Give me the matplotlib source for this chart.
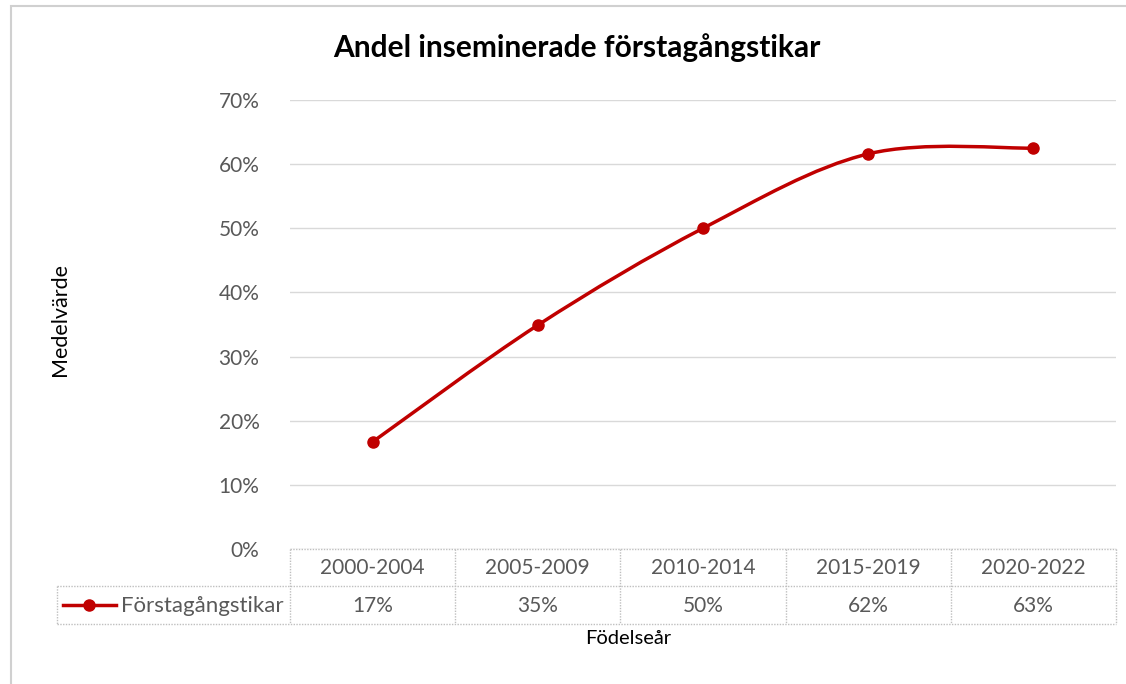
import numpy as np
import matplotlib
matplotlib.use("Agg")
import matplotlib.pyplot as plt
from matplotlib.path import Path
from matplotlib.patches import PathPatch, Rectangle
from matplotlib.lines import Line2D

plt.rcParams['font.family'] = ['Lato', 'DejaVu Sans']

# data
categories = ['2000-2004', '2005-2009', '2010-2014', '2015-2019', '2020-2022']
values = [0.167, 0.349, 0.500, 0.616, 0.625]
table_labels = ['17%', '35%', '50%', '62%', '63%']
series_name = 'Förstagångstikar'

red = '#C00000'
grey = '#595959'
border = '#BFBFBF'

W, H = 1126, 684
fig = plt.figure(figsize=(W / 100, H / 100), dpi=100)

def fx(px):
    return px / W

def fy(py):
    return 1 - py / H

# chart border (Excel chart area)
fig.patches.append(Rectangle((fx(11), fy(700)), 1.2, fy(6) - fy(700),
                             transform=fig.transFigure, fill=False,
                             edgecolor='#D0D0D0', linewidth=1.5))

ax = fig.add_axes([fx(290), fy(549), fx(1116) - fx(290), fy(100) - fy(549)])
x = np.arange(len(values))
ax.set_xlim(-0.5, len(values) - 0.5)
ax.set_ylim(0, 0.7)
ax.set_yticks(np.arange(0, 0.71, 0.1))
ax.set_yticklabels([f'{int(round(t * 100))}%' for t in np.arange(0, 0.71, 0.1)])
ax.tick_params(axis='y', length=0, pad=22, labelsize=15, labelcolor=grey)
ax.set_xticks([])
for s in ax.spines.values():
    s.set_visible(False)
ax.grid(axis='y', color='#D9D9D9', linewidth=1)
ax.set_axisbelow(True)

# smoothed line (Excel-style Catmull-Rom bezier)
pts = np.column_stack([x, values]).astype(float)
ext = np.vstack([pts[0], pts, pts[-1]])
verts = [tuple(pts[0])]
codes = [Path.MOVETO]
for i in range(len(pts) - 1):
    p0, p1, p2, p3 = ext[i], ext[i + 1], ext[i + 2], ext[i + 3]
    c1 = p1 + (p2 - p0) / 6
    c2 = p2 - (p3 - p1) / 6
    verts += [tuple(c1), tuple(c2), tuple(p2)]
    codes += [Path.CURVE4] * 3
ax.add_patch(PathPatch(Path(verts, codes), facecolor='none', edgecolor=red,
                       linewidth=2.5, capstyle='round'))
ax.plot(x, values, 'o', color=red, markersize=8, zorder=3)

# data table below the axis
lkw = dict(color=border, linewidth=1, linestyle=(0, (1, 1)))
for yy in [549, 586, 624]:
    x0 = 290 if yy == 549 else 57
    fig.add_artist(Line2D([fx(x0), fx(1116)], [fy(yy), fy(yy)], **lkw))
for i in range(len(categories) + 1):
    xx = 290 + i * 165.2
    fig.add_artist(Line2D([fx(xx), fx(xx)], [fy(549), fy(624)], **lkw))
fig.add_artist(Line2D([fx(57), fx(57)], [fy(586), fy(624)], **lkw))

for i, (c, lab) in enumerate(zip(categories, table_labels)):
    cx = fx(290 + (i + 0.5) * 165.2)
    fig.text(cx, fy(568), c, ha='center', va='center', fontsize=15, color=grey)
    fig.text(cx, fy(606), lab, ha='center', va='center', fontsize=15, color=grey)

fig.add_artist(Line2D([fx(63), fx(116)], [fy(605), fy(605)], color=red, linewidth=2.5))
fig.add_artist(Line2D([fx(89)], [fy(605)], marker='o', color=red, markersize=8))
fig.text(fx(121), fy(606), series_name, ha='left', va='center', fontsize=16, color=grey)

# titles
fig.text(fx(577), fy(48), 'Andel inseminerade förstagångstikar', ha='center', va='center',
         fontsize=21.5, fontweight='bold', color='black')
fig.text(fx(60), fy(320), 'Medelvärde', ha='center', va='center', rotation=90,
         fontsize=15.5, color='black')
fig.text(fx(628), fy(638), 'Födelseår', ha='center', va='center', fontsize=14.5, color='black')

fig.savefig('out.png', dpi=100)
